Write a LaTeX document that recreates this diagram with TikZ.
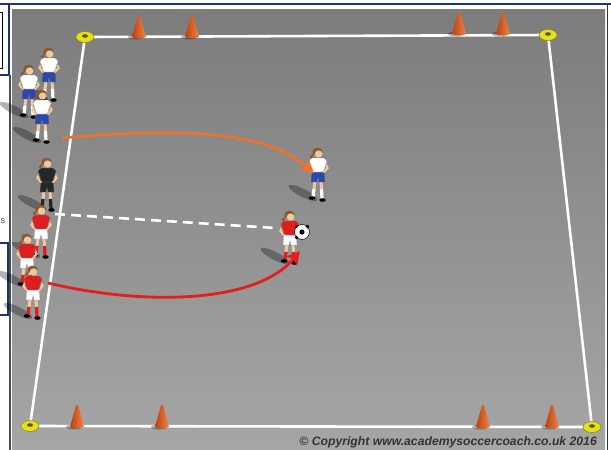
\documentclass[tikz,border=0pt]{standalone}
\usepackage{fontspec}
\newfontfamily\creditfont{Liberation Sans}
\usetikzlibrary{arrows,arrows.meta,positioning}
\definecolor{navy}{HTML}{1E3470}
\definecolor{pitchtop}{HTML}{7C7C7C}
\definecolor{pitchbottom}{HTML}{A6A6A6}
\definecolor{conedark}{HTML}{B8420E}
\definecolor{conelight}{HTML}{F0844A}
\definecolor{discyellow}{HTML}{E4E01E}
\definecolor{runorange}{HTML}{E8742E}
\definecolor{runred}{HTML}{E0201E}
\definecolor{kitred}{HTML}{DC1E1E}
\definecolor{kitblue}{HTML}{2C48A8}
\definecolor{skin}{HTML}{F0C8A0}
\definecolor{hair}{HTML}{8A5A2C}
\tikzstyle{fieldline}=[white,line width=2.6pt,line cap=round,line join=round]
\tikzstyle{run}=[->,>={Stealth[length=13pt,width=14pt,inset=2.5pt]},line width=2.8pt]
\tikzstyle{pass}=[white,line width=2.6pt,dash pattern=on 10pt off 6pt]
\tikzstyle{frame}=[navy,line width=1.6pt]

\newcommand{\fieldcone}[1]{%
\begin{scope}[shift={(#1)}]
\fill[black,opacity=.3] (-3,0) ellipse [x radius=8,y radius=2.5];
\shade[left color=conedark,right color=conelight] (-7,0) .. controls (-6,1.8) and (6,1.8) .. (7,0)
  -- (1.3,-21) .. controls (0.6,-22.8) and (-0.6,-22.8) .. (-1.3,-21) -- cycle;
\end{scope}}

\newcommand{\fielddisc}[1]{%
\begin{scope}[shift={(#1)}]
\filldraw[fill=discyellow,draw=discyellow!60!black,line width=.5pt] (0,0) ellipse [x radius=9,y radius=5.5];
\fill[black!60!discyellow] (0,-1) ellipse [x radius=3,y radius=1.8];
\end{scope}}

\newcommand{\footballer}[4]{%
\begin{scope}[shift={(#1)}]
\fill[black,opacity=.3,shift={(-15,-7)},rotate=-27] (0,0) ellipse [x radius=16,y radius=4];
\draw[skin,line width=3pt] (-3,-19) -- (-4,-11);
\draw[skin,line width=3pt] (3,-19) -- (3.5,-11);
\draw[#4,line width=3.2pt] (-4,-11) -- (-5,-3);
\draw[#4,line width=3.2pt] (3.5,-11) -- (4,-1);
\fill[black] (-6,-2) ellipse [x radius=3.2,y radius=1.8];
\fill[black] (4.5,0) ellipse [x radius=3.2,y radius=1.8];
\filldraw[fill=#3,draw=black!50,line width=.3pt] (-6.5,-29) -- (6.5,-29) -- (7,-18) -- (0.8,-18)
  -- (0,-22) -- (-0.8,-18) -- (-7,-18) -- cycle;
\draw[skin,line width=2.2pt,line cap=round] (-6,-40) -- (-9.5,-32) -- (-6,-28);
\draw[skin,line width=2.2pt,line cap=round] (6,-40) -- (9.5,-32) -- (6,-28);
\filldraw[fill=#2,draw=black!50,line width=.3pt,rounded corners=2pt] (-8,-42) -- (8,-42) -- (9.5,-36)
  -- (7,-35) -- (6.5,-28) -- (-6.5,-28) -- (-7,-35) -- (-9.5,-36) -- cycle;
\fill[hair] (-0.5,-48.5) ellipse [x radius=5.2,y radius=3.8];
\fill[hair] (-3,-49) -- (-8.5,-43) -- (-6,-42) -- cycle;
\fill[skin] (0.6,-46) ellipse [x radius=3.8,y radius=3.6];
\end{scope}}

\begin{document}
\begin{tikzpicture}[x=1pt,y=-1pt]
\useasboundingbox (0,0) rectangle (611,450);
\fill[white] (0,0) rectangle (611,450);

% page frame
\draw[frame] (0,4) -- (611,4);
\draw[frame] (607.5,4) -- (607.5,450);
\draw[frame] (9,4) -- (9,75) -- (0,75);
\draw[gray!60!black,line width=1.4pt] (10,75) -- (10,450);
\draw[frame] (0,243) -- (8,243) -- (8,315) -- (0,315);
\draw[black,line width=.8pt] (-2,12) rectangle (2.5,68);
\node[anchor=west,inner sep=0pt,font=\creditfont\fontsize{9}{11}\selectfont,text=black!75] (cut) at (0.4,221) {s};

% pitch
\shade[top color=pitchtop,bottom color=pitchbottom] (12,9) rectangle (605,450);
\coordinate (TL) at (85,37);
\coordinate (TR) at (548,35);
\coordinate (BR) at (592,427);
\coordinate (BL) at (30,426);
\draw[fieldline] (TL) -- (TR) -- (BR) -- (BL) -- cycle;

\foreach \p in {{139,37},{192,37},{459,34},{503,34},{77,427},{162,427},{483,427},{552,427}}
  \fieldcone{\p};
\foreach \p in {{85,37},{548,35},{30,426},{592,427}}
  \fielddisc{\p};

% players
\footballer{49,100}{white}{kitblue}{white}
\footballer{29,117}{white}{kitblue}{white}
\footballer{42,142}{white}{kitblue}{white}
\footballer{318,200}{white}{kitblue}{white}
\footballer{47,210}{black!85}{black!85}{black!85}
\footballer{41,257}{kitred}{white}{kitred}
\footballer{290,263}{kitred}{white}{kitred}
\footballer{27,286}{kitred}{white}{kitred}
\footballer{33,318}{kitred}{white}{kitred}

\node[circle,draw=black,fill=white,minimum size=15pt,inner sep=0pt,line width=.5pt] (ball) at (302,232) {};
\fill[black] (ball.center) circle [radius=2.6];
\fill[black] (ball.north east) circle [radius=1.8];
\fill[black] (ball.south west) circle [radius=1.8];
\fill[black] (ball.north west) circle [radius=1.5];

% runs and pass
\coordinate (orangeStart) at (62,138);
\coordinate (orangeEnd) at (314,173);
\coordinate (passStart) at (55,214);
\coordinate (passEnd) at (275,228);
\coordinate (redStart) at (48,283);
\coordinate (redEnd) at (300,251);

\draw[run,runorange] (orangeStart) .. controls (220,124) and (275,140) .. (orangeEnd);
\draw[pass] (passStart) -- (passEnd);
\draw[run,runred] (redStart) .. controls (140,305) and (255,305) .. (redEnd);

\node[anchor=east,font=\creditfont\bfseries\itshape\fontsize{12.2}{14}\selectfont,text=black!80,inner sep=0pt]
  (credit) at (597,442) {\textcopyright{} Copyright www.academysoccercoach.co.uk 2016};
\end{tikzpicture}
\end{document}
